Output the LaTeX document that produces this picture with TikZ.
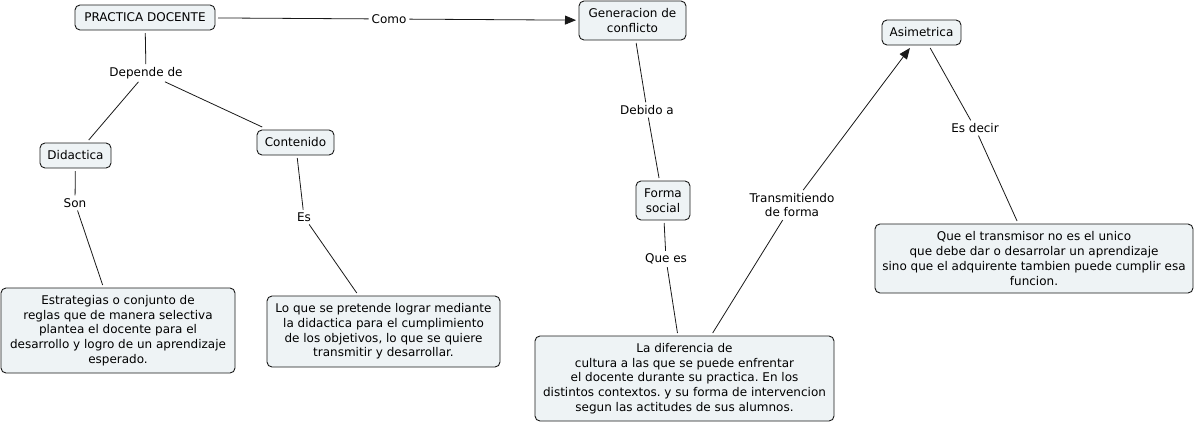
\documentclass[tikz,border=0pt]{standalone}
\usepackage{fontspec}
\setmainfont{DejaVu Sans}
\usetikzlibrary{arrows.meta}
\definecolor{boxfill}{RGB}{238,243,245}
\definecolor{linec}{RGB}{25,25,25}
\frenchspacing
\begin{document}
\begin{tikzpicture}[x=1pt,y=-1pt,
 concept/.style={draw=linec, fill=boxfill, rounded corners=5pt, line width=0.9pt, align=center, inner sep=0pt, font=\fontsize{12}{14.7}\selectfont, outer sep=3pt},
 lbl/.style={align=center, inner sep=1pt, outer sep=2pt, font=\fontsize{12}{14.7}\selectfont},
 conn/.style={draw=linec, line width=0.8pt},
 arr/.style={conn, -{Triangle[length=11pt,width=9pt]}}
]
\useasboundingbox (0,0) rectangle (1195,424);
\node[concept, minimum width=140, minimum height=25] (pd) at (145,17.5) {PRACTICA DOCENTE};
\node[concept, minimum width=107, minimum height=39] (gen) at (632.5,20.5) {Generacion de\\conflicto};
\node[concept, minimum width=71, minimum height=25] (did) at (75.5,155.5) {Didactica};
\node[concept, minimum width=77, minimum height=25] (con) at (295.5,142.5) {Contenido};
\node[concept, minimum width=234, minimum height=85] (est) at (118,330.5) {Estrategias o conjunto de\\reglas que de manera selectiva\\plantea el docente para el\\desarrollo y logro de un aprendizaje\\esperado.};
\node[concept, minimum width=233, minimum height=71] (lo) at (383.5,331.5) {Lo que se pretende lograr mediante\\la didactica para el cumplimiento\\de los objetivos, lo que se quiere\\transmitir y desarrollar.};
\node[concept, minimum width=54, minimum height=39] (forma) at (663,200.5) {Forma\\social};
\node[concept, minimum width=299, minimum height=85] (dif) at (684.5,378.5) {La diferencia de\\cultura a las que se puede enfrentar\\el docente durante su practica. En los\\distintos contextos. y su forma de intervencion\\segun las actitudes de sus alumnos.};
\node[concept, minimum width=79, minimum height=25] (asi) at (921.5,32.5) {Asimetrica};
\node[concept, minimum width=318, minimum height=69] (que) at (1034,258.5) {Que el transmisor no es el unico\\que debe dar o desarrolar un aprendizaje\\sino que el adquirente tambien puede cumplir esa\\funcion.};

\node[lbl] (como) at (389,19) {Como};
\node[lbl] (dep) at (146,73) {Depende de};
\node[lbl] (son) at (75,203) {Son};
\node[lbl] (es) at (304,217) {Es};
\node[lbl] (deb) at (647,110) {Debido a};
\node[lbl] (quees) at (666,259) {Que es};
\node[lbl] (trans) at (792,205) {Transmitiendo\\de forma};
\node[lbl] (esd) at (975,128) {Es decir};

\draw[conn] (pd) -- (como);
\draw[arr] (como) -- (gen);
\draw[conn] (pd) -- (dep);
\draw[conn] (dep) -- (did);
\draw[conn] (dep) -- (con);
\draw[conn] (did) -- (son);
\draw[conn] (son) -- (est);
\draw[conn] (con) -- (es);
\draw[conn] (es) -- (lo);
\draw[conn] (gen) -- (deb);
\draw[conn] (deb) -- (forma);
\draw[conn] (forma) -- (quees);
\draw[conn] (quees) -- (dif);
\draw[conn] (dif) -- (trans);
\draw[arr] (trans) -- (asi);
\draw[conn] (asi) -- (esd);
\draw[conn] (esd) -- (que);
\end{tikzpicture}
\end{document}
